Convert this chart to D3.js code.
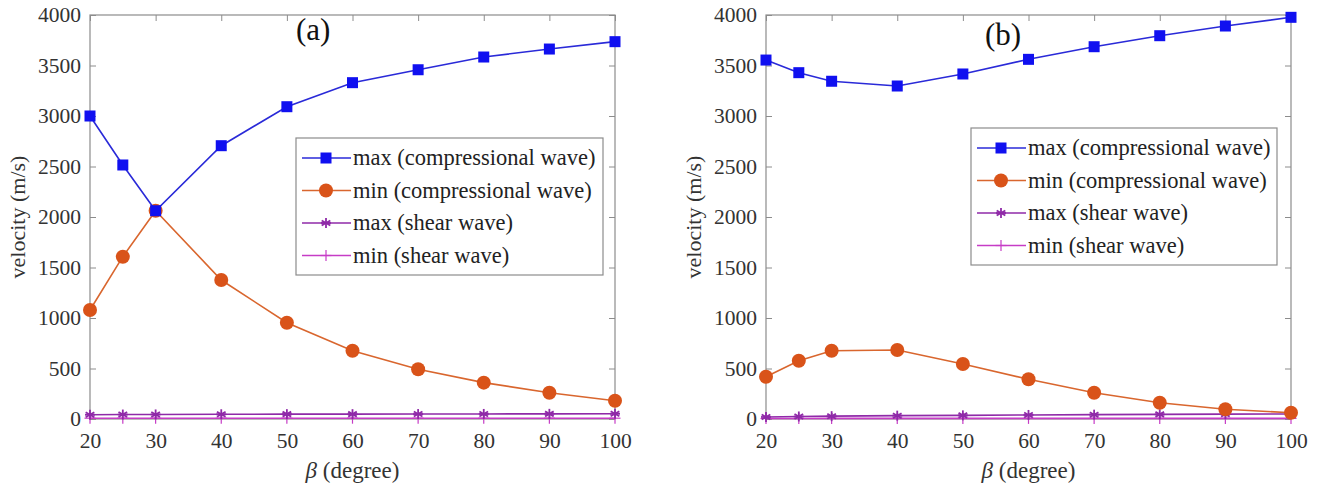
<!DOCTYPE html>
<html>
<head>
<meta charset="utf-8">
<script src="https://cdn.jsdelivr.net/npm/d3@7"></script>
<style>
  body { margin: 0; background: #fff; }
  svg text { font-family: "Liberation Serif", Tinos, "Times New Roman", Times, "DejaVu Serif", serif; }
</style>
</head>
<body>
<div id="chart"></div>
<script>
// beta angles (degree)
const betas = [20, 25, 30, 40, 50, 60, 70, 80, 90, 100];

// panel (a)
const aMaxComp = [3000, 2515, 2062, 2706, 3092, 3330, 3458, 3584, 3663, 3736];
const aMinComp = [1079, 1607, 2062, 1376, 953, 676, 492, 360, 260, 181];
const aMaxShear = [42, 44, 45, 47, 48, 48, 49, 50, 51, 52];
const aMinShear = [8, 8, 8, 8, 8, 8, 8, 8, 8, 8];

// panel (b)
const bMaxComp = [3554, 3429, 3344, 3297, 3416, 3561, 3686, 3795, 3891, 3977];
const bMinComp = [419, 577, 676, 683, 545, 393, 260, 161, 96, 62];
const bMaxShear = [20, 25, 28, 33, 36, 40, 43, 46, 48, 50];
const bMinShear = [5, 5, 6, 6, 6, 6, 6, 6, 6, 6];

const xTicks = [20, 30, 40, 50, 60, 70, 80, 90, 100];
const yTicks = [0, 500, 1000, 1500, 2000, 2500, 3000, 3500, 4000];

const seriesNames = ["max (compressional wave)", "min (compressional wave)", "max (shear wave)", "min (shear wave)"];
const seriesColors = ["#1010f0", "#d95319", "#8f2aa8", "#c63cc6"];
const lineColors = ["#2a2ad8", "#d9662e", "#8f2aa8", "#c63cc6"];
const markers = ["square", "circle", "star", "plus"];

const W = 1324, H = 491;
const FONT = "'Liberation Serif', Tinos, 'Times New Roman', Times, 'DejaVu Serif', serif";
const svg = d3.select("#chart").append("svg")
  .attr("width", W).attr("height", H)
  .style("font-family", FONT);

const panels = [
  {label: "(a)", left: 90, right: 615, series: [aMaxComp, aMinComp, aMaxShear, aMinShear],
   tag: {x: 296, y: 40}, legend: {x: 296, y: 138, w: 307, h: 137}},
  {label: "(b)", left: 766, right: 1291, series: [bMaxComp, bMinComp, bMaxShear, bMinShear],
   tag: {x: 985, y: 45}, legend: {x: 971, y: 128, w: 306, h: 137}}
];

const plotTop = 15, plotBottom = 419;

function drawMarker(g, type, cx, cy, color) {
  if (type === "square") {
    g.append("rect").attr("x", cx - 5.5).attr("y", cy - 5.5).attr("width", 11).attr("height", 11)
      .attr("fill", color);
  } else if (type === "circle") {
    g.append("circle").attr("cx", cx).attr("cy", cy).attr("r", 7).attr("fill", color);
  } else if (type === "star") {
    const r = 5;
    [0, 60, 120].forEach(a => {
      const t = a * Math.PI / 180;
      g.append("line")
        .attr("x1", cx - r * Math.sin(t)).attr("y1", cy - r * Math.cos(t))
        .attr("x2", cx + r * Math.sin(t)).attr("y2", cy + r * Math.cos(t))
        .attr("stroke", color).attr("stroke-width", 1.8);
    });
    g.append("line").attr("x1", cx - r).attr("x2", cx + r).attr("y1", cy).attr("y2", cy)
      .attr("stroke", color).attr("stroke-width", 1.8);
  } else if (type === "plus") {
    const r = 5.5;
    g.append("line").attr("x1", cx - r).attr("x2", cx + r).attr("y1", cy).attr("y2", cy)
      .attr("stroke", color).attr("stroke-width", 1.2);
    g.append("line").attr("x1", cx).attr("x2", cx).attr("y1", cy - r).attr("y2", cy + r)
      .attr("stroke", color).attr("stroke-width", 1.2);
  }
}

panels.forEach(p => {
  const x = d3.scaleLinear().domain([20, 100]).range([p.left, p.right]);
  const y = d3.scaleLinear().domain([0, 4000]).range([plotBottom, plotTop]);
  const g = svg.append("g");

  // box
  g.append("rect").attr("x", p.left).attr("y", plotTop)
    .attr("width", p.right - p.left).attr("height", plotBottom - plotTop)
    .attr("fill", "none").attr("stroke", "#8c8c8c").attr("stroke-width", 1.2);

  // axes with inward ticks
  const axB = g.append("g").attr("transform", `translate(0,${plotBottom})`)
    .call(d3.axisBottom(x).tickValues(xTicks).tickSize(-6).tickPadding(14).tickFormat(d3.format("d")));
  const axT = g.append("g").attr("transform", `translate(0,${plotTop})`)
    .call(d3.axisTop(x).tickValues(xTicks).tickSize(-6).tickFormat(""));
  const axL = g.append("g").attr("transform", `translate(${p.left},0)`)
    .call(d3.axisLeft(y).tickValues(yTicks).tickSize(-6).tickPadding(9).tickFormat(d3.format("d")));
  const axR = g.append("g").attr("transform", `translate(${p.right},0)`)
    .call(d3.axisRight(y).tickValues(yTicks).tickSize(-6).tickFormat(""));
  [axB, axT, axL, axR].forEach(a => {
    a.attr("font-family", null).attr("font-size", null);
    a.select(".domain").remove();
    a.selectAll("line").attr("stroke", "#8c8c8c");
    a.selectAll("text").style("font-family", FONT)
      .attr("font-size", 21.5).attr("fill", "#333");
  });
  axB.selectAll("text").attr("dy", "0.72em");

  // series (draw shear first so compressional lies on top)
  [3, 2, 1, 0].forEach(i => {
    const vals = p.series[i];
    const line = d3.line().x((d, j) => x(betas[j])).y(d => y(d));
    g.append("path").datum(vals).attr("d", line)
      .attr("fill", "none").attr("stroke", lineColors[i]).attr("stroke-width", 1.6);
    const mg = g.append("g");
    vals.forEach((v, j) => drawMarker(mg, markers[i], x(betas[j]), y(v), seriesColors[i]));
  });

  // panel tag
  g.append("text").attr("x", p.tag.x).attr("y", p.tag.y)
    .attr("font-size", 31).attr("fill", "#111").text(p.label);

  // legend
  const lg = g.append("g").attr("transform", `translate(${p.legend.x},${p.legend.y})`);
  lg.append("rect").attr("width", p.legend.w).attr("height", p.legend.h)
    .attr("fill", "#fff").attr("stroke", "#8c8c8c").attr("stroke-width", 1.2);
  seriesNames.forEach((name, i) => {
    const yy = 20 + i * 32.5;
    lg.append("line").attr("x1", 6).attr("x2", 55).attr("y1", yy).attr("y2", yy)
      .attr("stroke", lineColors[i]).attr("stroke-width", 1.6);
    drawMarker(lg, markers[i], 30, yy, seriesColors[i]);
    lg.append("text").attr("x", 57).attr("y", yy).attr("dy", "0.33em")
      .attr("font-size", 22.5).attr("fill", "#222").text(name);
  });

  // axis labels
  g.append("text")
    .attr("transform", `translate(${p.left - 65},${(plotTop + plotBottom) / 2}) rotate(-90)`)
    .attr("text-anchor", "middle").attr("font-size", 22).attr("fill", "#333")
    .text("velocity (m/s)");
  const xl = g.append("text").attr("x", (p.left + p.right) / 2).attr("y", 478)
    .attr("text-anchor", "middle").attr("font-size", 23).attr("fill", "#333");
  xl.append("tspan").attr("font-style", "italic").text("β");
  xl.append("tspan").text(" (degree)");
});
</script>
</body>
</html>
